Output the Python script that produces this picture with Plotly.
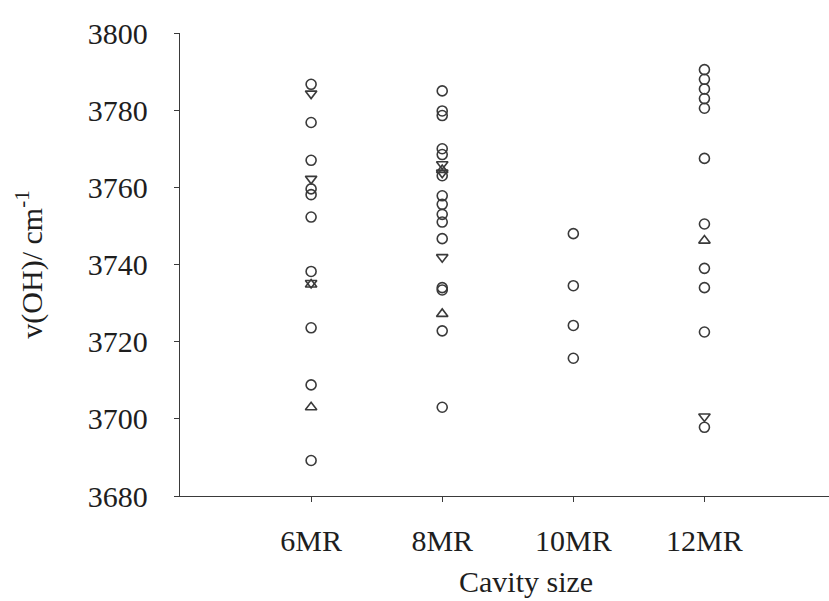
import plotly.graph_objects as go

categories = ["6MR", "8MR", "10MR", "12MR"]

circle_6 = [3786.7, 3776.8, 3767.0, 3759.6, 3758.1, 3752.3, 3738.2, 3723.6, 3708.8, 3689.2]
circle_8 = [3785.0, 3779.8, 3778.6, 3770.0, 3768.5, 3763.0, 3757.8, 3755.6, 3753.0, 3751.0, 3746.7, 3734.0, 3733.4, 3722.8, 3703.0]
circle_10 = [3748.0, 3734.5, 3724.2, 3715.7]
circle_12 = [3790.5, 3788.0, 3785.5, 3783.0, 3780.5, 3767.5, 3750.5, 3739.0, 3734.0, 3722.5, 3697.8]

tri_up_6 = [3734.8, 3703.0]
tri_up_8 = [3764.5, 3727.2]
tri_up_12 = [3746.2]

tri_down_6 = [3784.3, 3762.2, 3735.2]
tri_down_8 = [3766.0, 3763.8, 3741.9]
tri_down_12 = [3700.6]

y_ticks = [3680, 3700, 3720, 3740, 3760, 3780, 3800]

FONT = "Liberation Serif, Times New Roman, serif"
INK = "#3a3a3a"

def series(groups, symbol):
    xs, ys = [], []
    for cat, vals in zip(categories, groups):
        xs += [cat] * len(vals)
        ys += vals
    return go.Scatter(
        x=xs, y=ys, mode="markers", showlegend=False,
        marker=dict(symbol=symbol, size=10, color=INK,
                    line=dict(color=INK, width=1.6)),
    )

fig = go.Figure()
fig.add_trace(series([circle_6, circle_8, circle_10, circle_12], "circle-open"))
fig.add_trace(series([tri_up_6, tri_up_8, [], tri_up_12], "triangle-up-open"))
fig.add_trace(series([tri_down_6, tri_down_8, [], tri_down_12], "triangle-down-open"))

fig.update_layout(
    width=829, height=601,
    margin=dict(l=180, r=0, t=33, b=105),
    plot_bgcolor="white", paper_bgcolor="white",
    font=dict(family=FONT, size=30, color="#1e1e1e"),
    annotations=[dict(
        text="Cavity size", xref="paper", yref="paper",
        x=(526 - 180) / 649, y=-(581 - 496) / 463,
        xanchor="center", yanchor="middle", showarrow=False,
        font=dict(family=FONT, size=30, color="#1e1e1e"),
    )],
)
fig.update_xaxes(
    type="category", categoryorder="array", categoryarray=categories,
    range=[-1, 3.95], showgrid=False, zeroline=False,
    showline=True, linecolor=INK, linewidth=1.3,
    ticks="outside", ticklen=5, tickcolor=INK, tickwidth=1.3,
    ticklabelstandoff=13,
)
fig.update_yaxes(
    range=[3680, 3800], tickvals=y_ticks, showgrid=False, zeroline=False,
    showline=True, linecolor=INK, linewidth=1.3,
    ticks="outside", ticklen=5, tickcolor=INK, tickwidth=1.3,
    ticklabelstandoff=20,
    title=dict(text="v(OH)/ cm<sup>-1</sup>", standoff=36, font=dict(size=30)),
)

fig.write_html("out.html")
